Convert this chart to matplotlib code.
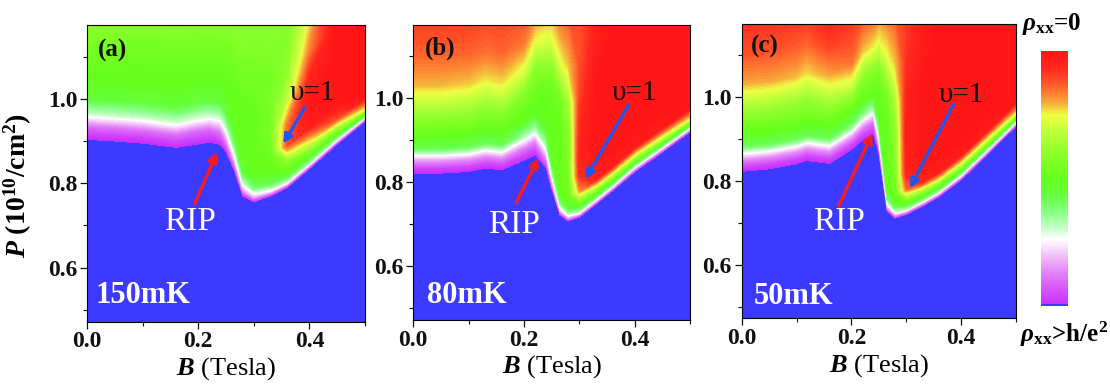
import numpy as np
import matplotlib
matplotlib.use("Agg")
import matplotlib.pyplot as plt
from matplotlib.colors import LinearSegmentedColormap, Normalize
from matplotlib.cm import ScalarMappable
from matplotlib.ticker import MultipleLocator

BLUE = "#3D3AFF"
INK = "#111111"

plt.rcParams.update({
    "font.family": ["Liberation Serif", "DejaVu Serif"],
    "mathtext.fontset": "custom",
    "mathtext.rm": "Liberation Serif:bold",
    "mathtext.it": "Liberation Serif:italic:bold",
    "mathtext.bf": "Liberation Serif:bold",
    "axes.linewidth": 0.8,
})

# rho_xx colour scale: magenta (0) -> white -> green -> yellow -> red (1)
CMAP = LinearSegmentedColormap.from_list("rho", [
    (0.00, "#C82EFF"), (0.06, "#D452FA"), (0.13, "#E383F8"), (0.20, "#F3C5F8"),
    (0.26, "#FFFFFF"), (0.30, "#CCFFCC"), (0.36, "#8CFF8C"), (0.43, "#66FF44"),
    (0.50, "#66FF1A"), (0.60, "#8CFF2A"), (0.68, "#BBFF3A"), (0.75, "#EEFF44"),
    (0.80, "#F8A83A"), (0.87, "#FF5A2A"), (0.93, "#FF2A1F"), (1.00, "#FF1515"),
])

# heights above the insulating edge at which the profiles were read
H = [0, 0.012, 0.03, 0.06, 0.10, 0.15, 0.21, 0.28, 0.37, 0.50]

# ---- (a) 150 mK ----
B_a = [0, 0.05, 0.1, 0.16, 0.2, 0.22, 0.24, 0.25, 0.265, 0.28, 0.3, 0.33, 0.36, 0.4, 0.45, 0.5]
edge_a = [0.904, 0.9, 0.895, 0.885, 0.893, 0.897, 0.892, 0.875, 0.83, 0.77, 0.756, 0.77, 0.79, 0.835, 0.893, 0.947]
prof_a = [
    [0, 0.03, 0.1, 0.30, 0.45, 0.5, 0.54, 0.6, 0.64, 0.66],
    [0, 0.03, 0.1, 0.30, 0.45, 0.5, 0.53, 0.59, 0.63, 0.66],
    [0, 0.03, 0.1, 0.30, 0.45, 0.5, 0.52, 0.58, 0.62, 0.65],
    [0, 0.03, 0.1, 0.30, 0.45, 0.5, 0.52, 0.58, 0.62, 0.65],
    [0, 0.03, 0.09, 0.28, 0.44, 0.5, 0.53, 0.58, 0.62, 0.65],
    [0, 0.03, 0.09, 0.28, 0.44, 0.5, 0.53, 0.58, 0.62, 0.65],
    [0, 0.04, 0.11, 0.28, 0.44, 0.5, 0.53, 0.58, 0.62, 0.65],
    [0, 0.06, 0.15, 0.31, 0.45, 0.5, 0.52, 0.57, 0.61, 0.64],
    [0, 0.10, 0.22, 0.37, 0.47, 0.5, 0.51, 0.55, 0.6, 0.62],
    [0, 0.14, 0.29, 0.45, 0.5, 0.5, 0.5, 0.54, 0.58, 0.62],
    [0, 0.18, 0.36, 0.48, 0.5, 0.5, 0.5, 0.53, 0.57, 0.62],
    [0, 0.25, 0.42, 0.5, 0.52, 0.56, 0.55, 0.55, 0.58, 0.62],
    [0, 0.28, 0.45, 0.58, 0.88, 0.84, 0.68, 0.6, 0.57, 0.58],
    [0, 0.30, 0.48, 0.72, 0.97, 1, 0.95, 0.83, 0.74, 0.7],
    [0, 0.30, 0.55, 0.88, 1, 1, 1, 1, 1, 1],
    [0, 0.38, 0.75, 1, 1, 1, 1, 1, 1, 1],
]

# ---- (b) 80 mK ----
B_b = [0, 0.05, 0.1, 0.13, 0.16, 0.2, 0.22, 0.24, 0.25, 0.265, 0.28, 0.3, 0.33, 0.36, 0.4, 0.45, 0.5]
edge_b = [0.822, 0.822, 0.826, 0.834, 0.83, 0.853, 0.866, 0.835, 0.785, 0.722, 0.708, 0.717, 0.748, 0.78, 0.825, 0.872, 0.92]
prof_b = [
    [0, 0.04, 0.15, 0.42, 0.52, 0.65, 0.79, 0.86, 0.91, 0.94],
    [0, 0.04, 0.15, 0.42, 0.52, 0.65, 0.79, 0.86, 0.91, 0.94],
    [0, 0.04, 0.15, 0.42, 0.52, 0.64, 0.78, 0.86, 0.91, 0.94],
    [0, 0.04, 0.15, 0.41, 0.51, 0.62, 0.76, 0.85, 0.9, 0.93],
    [0, 0.04, 0.15, 0.41, 0.51, 0.63, 0.77, 0.86, 0.9, 0.93],
    [0, 0.04, 0.13, 0.34, 0.5, 0.56, 0.72, 0.84, 0.9, 0.93],
    [0, 0.04, 0.12, 0.31, 0.48, 0.52, 0.6, 0.76, 0.87, 0.92],
    [0, 0.08, 0.18, 0.35, 0.48, 0.5, 0.54, 0.68, 0.82, 0.9],
    [0, 0.13, 0.26, 0.42, 0.5, 0.5, 0.5, 0.58, 0.75, 0.87],
    [0, 0.20, 0.38, 0.5, 0.5, 0.5, 0.5, 0.54, 0.74, 0.88],
    [0, 0.25, 0.45, 0.52, 0.55, 0.56, 0.58, 0.64, 0.78, 0.88],
    [0, 0.30, 0.5, 0.8, 0.93, 0.95, 0.93, 0.9, 0.88, 0.88],
    [0, 0.30, 0.55, 0.95, 1, 1, 1, 1, 0.97, 0.93],
    [0, 0.30, 0.58, 0.97, 1, 1, 1, 1, 1, 0.97],
    [0, 0.28, 0.6, 0.97, 1, 1, 1, 1, 1, 1],
    [0, 0.30, 0.65, 0.98, 1, 1, 1, 1, 1, 1],
    [0, 0.33, 0.72, 1, 1, 1, 1, 1, 1, 1],
]

# ---- (c) 50 mK ----
B_c = [0, 0.05, 0.1, 0.118, 0.16, 0.2, 0.22, 0.24, 0.25, 0.265, 0.28, 0.3, 0.33, 0.36, 0.4, 0.45, 0.5]
edge_c = [0.823, 0.829, 0.841, 0.849, 0.842, 0.875, 0.898, 0.913, 0.865, 0.728, 0.711, 0.72, 0.74, 0.763, 0.803, 0.866, 0.931]
prof_c = [
    [0, 0.04, 0.15, 0.41, 0.52, 0.64, 0.8, 0.88, 0.93, 0.95],
    [0, 0.04, 0.15, 0.41, 0.52, 0.64, 0.8, 0.88, 0.93, 0.95],
    [0, 0.04, 0.15, 0.41, 0.52, 0.63, 0.79, 0.87, 0.93, 0.95],
    [0, 0.04, 0.15, 0.41, 0.52, 0.62, 0.77, 0.86, 0.93, 0.95],
    [0, 0.04, 0.15, 0.41, 0.52, 0.65, 0.8, 0.9, 0.96, 0.97],
    [0, 0.04, 0.15, 0.40, 0.52, 0.7, 0.85, 0.9, 0.95, 0.96],
    [0, 0.04, 0.13, 0.35, 0.5, 0.6, 0.78, 0.87, 0.92, 0.95],
    [0, 0.04, 0.12, 0.32, 0.5, 0.58, 0.76, 0.86, 0.9, 0.93],
    [0, 0.10, 0.22, 0.37, 0.5, 0.5, 0.58, 0.76, 0.86, 0.9],
    [0, 0.20, 0.38, 0.5, 0.5, 0.5, 0.5, 0.55, 0.74, 0.88],
    [0, 0.25, 0.45, 0.53, 0.56, 0.58, 0.6, 0.66, 0.78, 0.88],
    [0, 0.30, 0.52, 0.85, 0.95, 0.96, 0.96, 0.95, 0.92, 0.9],
    [0, 0.30, 0.55, 0.95, 1, 1, 1, 1, 0.98, 0.95],
    [0, 0.30, 0.58, 0.97, 1, 1, 1, 1, 1, 1],
    [0, 0.30, 0.6, 0.97, 1, 1, 1, 1, 1, 1],
    [0, 0.30, 0.65, 0.98, 1, 1, 1, 1, 1, 1],
    [0, 0.33, 0.72, 1, 1, 1, 1, 1, 1, 1],
]

TAGS = ["(a)", "(b)", "(c)"]
TEMPS = ["150mK", "80mK", "50mK"]

W, Hpx = 1110, 387
fig = plt.figure(figsize=(W / 100, Hpx / 100), dpi=100)


def _box(l, t, r, b):
    return [l / W, 1 - b / Hpx, (r - l) / W, (b - t) / Hpx]


def panel(rect, b, edge, prof, tag, temp, txt, first=False):
    ax = fig.add_axes(rect)
    ax.set_facecolor(BLUE)
    b = np.asarray(b, float)
    h = np.asarray(H, float)
    X = np.broadcast_to(b, (len(h), len(b)))
    Y = np.asarray(edge, float)[None, :] + h[:, None]
    Z = np.asarray(prof, float).T
    ax.contourf(X, Y, Z, levels=np.linspace(0, 1, 121), cmap=CMAP)
    ax.set_xlim(0, 0.5)
    ax.set_ylim(0.472, 1.175)
    ax.xaxis.set_major_locator(MultipleLocator(0.2))
    ax.xaxis.set_minor_locator(MultipleLocator(0.1))
    ax.yaxis.set_major_locator(MultipleLocator(0.2))
    ax.yaxis.set_minor_locator(MultipleLocator(0.1))
    ax.tick_params(which="major", direction="out", length=5, width=0.9, labelsize=17, pad=2, colors=INK)
    ax.tick_params(which="minor", direction="out", length=3, width=0.8, colors=INK)
    for lab in ax.get_xticklabels() + ax.get_yticklabels():
        lab.set_fontweight("bold")
    ax.set_xlabel(r"$B$ (Tesla)", fontsize=19, labelpad=2)
    if first:
        ax.set_ylabel(r"$P$ (10$^{10}$/cm$^{2}$)", fontsize=20, fontweight="bold")
        ax.yaxis.set_label_coords(-0.19, 0.46)

    ax.text(txt["tag"][0], txt["tag"][1], tag, fontsize=18, fontweight="bold", ha="center", va="center", color=INK)
    ax.text(txt["temp"][0], txt["temp"][1], temp, fontsize=22, fontweight="bold", ha="center", va="center", color="white")
    ax.text(txt["rip"][0], txt["rip"][1], "RIP", fontsize=24, ha="center", va="center", color="white")
    ax.text(txt["nu"][0], txt["nu"][1], "υ=1", fontsize=21, ha="center", va="center", color=INK)
    ax.annotate("", xy=txt["red"][1], xytext=txt["red"][0],
                arrowprops=dict(arrowstyle="-|>", color="#FF1A1A", lw=2.4, mutation_scale=13, shrinkA=0, shrinkB=0))
    ax.annotate("", xy=txt["blue"][1], xytext=txt["blue"][0],
                arrowprops=dict(arrowstyle="-|>", color="#2255EE", lw=2.4, mutation_scale=13, shrinkA=0, shrinkB=0))
    return ax


panel(_box(87, 25, 365, 321.7), B_a, edge_a, prof_a, TAGS[0], TEMPS[0], {
    "tag": (0.045, 1.114), "temp": (0.101, 0.535), "rip": (0.185, 0.708), "nu": (0.405, 1.013),
    "red": ((0.194, 0.752), (0.234, 0.874)), "blue": ((0.392, 0.980), (0.353, 0.894)),
}, first=True)
panel(_box(413.3, 25, 690, 320), B_b, edge_b, prof_b, TAGS[1], TEMPS[1], {
    "tag": (0.048, 1.12), "temp": (0.097, 0.531), "rip": (0.182, 0.698), "nu": (0.399, 1.013),
    "red": ((0.186, 0.752), (0.226, 0.857)), "blue": ((0.389, 0.984), (0.311, 0.808)),
})
panel(_box(741.7, 24, 1016, 318.3), B_c, edge_c, prof_c, TAGS[2], TEMPS[2], {
    "tag": (0.042, 1.121), "temp": (0.094, 0.525), "rip": (0.177, 0.703), "nu": (0.40, 1.006),
    "red": ((0.177, 0.741), (0.238, 0.913)), "blue": ((0.386, 0.983), (0.307, 0.783)),
})

# colour bar
cax = fig.add_axes(_box(1041, 51, 1068, 306))
cb = fig.colorbar(ScalarMappable(norm=Normalize(0, 1), cmap=CMAP), cax=cax)
cb.set_ticks([])
cb.outline.set_visible(False)
cax.axhline(0.003, color=BLUE, lw=1.5)
fig.text(1022 / W, 1 - 24 / Hpx, r"$\rho_{\mathrm{xx}}$=0", fontsize=18, fontweight="bold", ha="left", va="center")
fig.text(1020 / W, 1 - 334 / Hpx, r"$\rho_{\mathrm{xx}}$>h/e$^{2}$", fontsize=18, fontweight="bold", ha="left", va="center")

fig.savefig("out.png", dpi=100, facecolor="white")
